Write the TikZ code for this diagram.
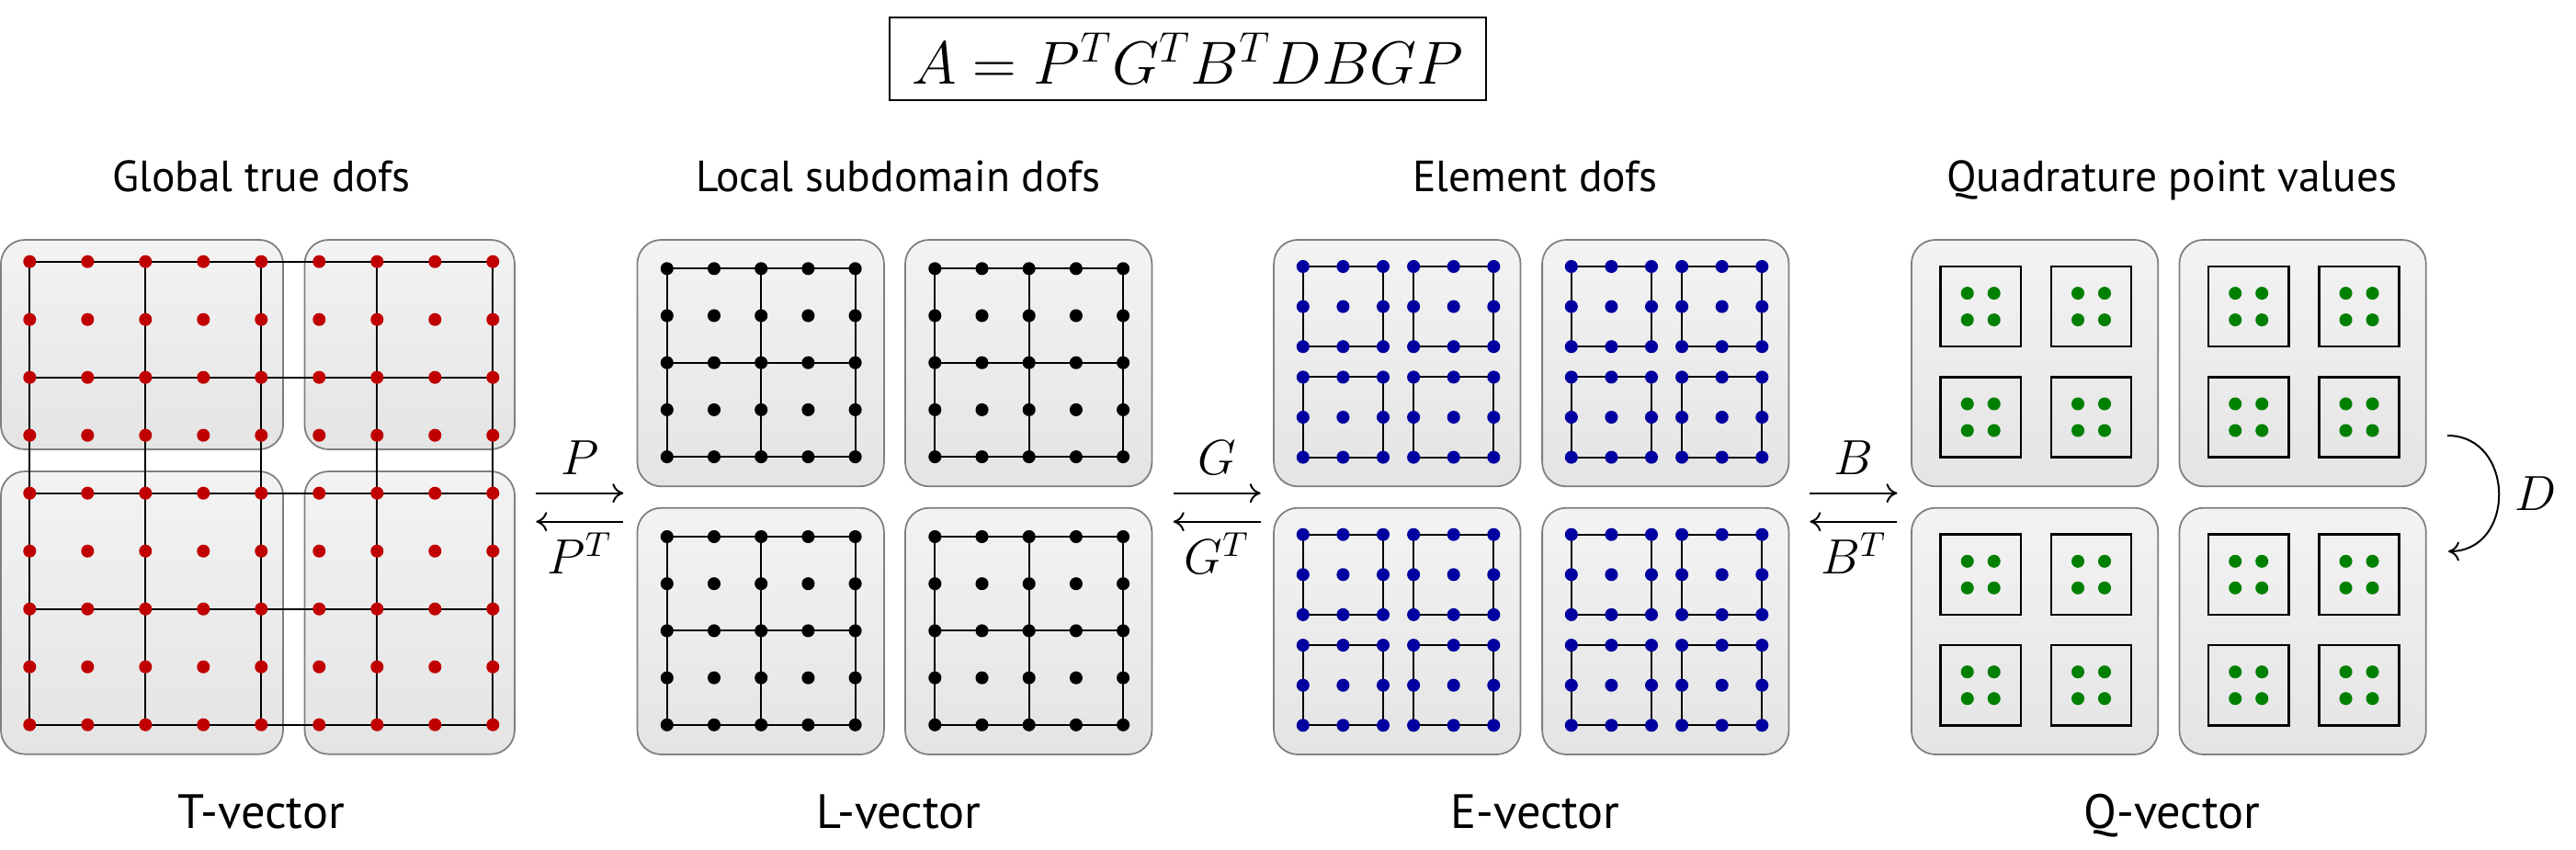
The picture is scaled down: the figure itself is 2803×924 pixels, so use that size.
\RequirePackage{fix-cm}
\documentclass[tikz,border=0pt]{standalone}
\usepackage[no-math]{fontspec}
\setmainfont{PT Sans}
\usetikzlibrary{arrows.meta}
\definecolor{dotred}{HTML}{C00000}
\definecolor{dotblue}{HTML}{0000A0}
\definecolor{dotgreen}{HTML}{008000}
\definecolor{boxedge}{HTML}{7F7F7F}
\definecolor{boxtop}{HTML}{F3F3F3}
\definecolor{boxbot}{HTML}{E4E4E4}
\tikzset{
  panelbox/.style={draw=boxedge, line width=0.5pt, rounded corners=7.4pt, top color=boxtop, bottom color=boxbot},
  gridline/.style={line width=0.55pt, draw=black},
  elemsq/.style={draw=black, line width=0.7pt},
  title/.style={font=\fontsize{13.5}{16}\selectfont, anchor=base},
  veclabel/.style={font=\fontsize{14.9}{18}\selectfont, anchor=base},
  opl/.style={font=\fontsize{15.3}{18}\selectfont, anchor=base},
  maparrow/.style={line width=0.57pt, -{To[length=3.4pt,width=6pt]}},
}
\begin{document}
\begin{tikzpicture}[x=0.01cm, y=-0.01cm]
\useasboundingbox (0,0) rectangle (2803,924);

% formula
\node[draw, line width=0.6pt, inner sep=0pt, minimum width=6.49cm, text height=0.727cm, text depth=0.176cm, anchor=base, font=\fontsize{18.8}{22}\selectfont] (formula) at (1292.4,91.7) {$A = P^T G^T B^T D B G P$};

% titles
\node[title] (t1) at (284.5,208.3) {Global true dofs};
\node[title] (t2) at (977.5,208.3) {Local subdomain dofs};
\node[title] (t3) at (1670.5,208.3) {Element dofs};
\node[title] (t4) at (2363.5,208.3) {Quadrature point values};

% bottom labels
\node[veclabel] (v1) at (284.4,901.7) {T-vector};
\node[veclabel] (v2) at (977.9,901.7) {L-vector};
\node[veclabel] (v3) at (1670.5,901.7) {E-vector};
\node[veclabel] (v4) at (2363.5,901.7) {Q-vector};

% ---- T panel
\foreach \bx/\by/\ex/\ey in {1/261/308/489, 331.5/261/560/489, 1/513/308/820.7, 331.5/513/560/820.7}
  \path[panelbox] (\bx,\by) rectangle (\ex,\ey);
\foreach \k in {0,2,4,6,8} {
  \draw[gridline] ({32.3+63*\k},284.7) -- ({32.3+63*\k},788.7);
  \draw[gridline] (32.3,{284.7+63*\k}) -- (536.3,{284.7+63*\k});
}
\foreach \i in {0,...,8} \foreach \j in {0,...,8}
  \fill[dotred] ({32.3+63*\i},{284.7+63*\j}) circle[radius=2pt];

% ---- L panel
\foreach \bx in {693.5,985} \foreach \by in {261,552.7} {
  \path[panelbox] (\bx,\by) rectangle ++(268.4,268.3);
  \foreach \k in {0,2,4} {
    \draw[gridline] ({\bx+32.3+51.2*\k},{\by+31.3}) -- ++(0,204.8);
    \draw[gridline] ({\bx+32.3},{\by+31.3+51.2*\k}) -- ++(204.8,0);
  }
  \foreach \i in {0,...,4} \foreach \j in {0,...,4}
    \fill[black] ({\bx+32.3+51.2*\i},{\by+31.3+51.2*\j}) circle[radius=2pt];
}

% ---- E panel
\foreach \bx in {1386.1,1678.1} \foreach \by in {261,552.7} {
  \path[panelbox] (\bx,\by) rectangle ++(268.4,268.3);
  \foreach \ox in {31.7,152} \foreach \oy in {29,149.4} {
    \draw[gridline] ({\bx+\ox},{\by+\oy}) rectangle ++(87.2,87.2);
    \foreach \i in {0,1,2} \foreach \j in {0,1,2}
      \fill[dotblue] ({\bx+\ox+43.6*\i},{\by+\oy+43.6*\j}) circle[radius=2pt];
  }
}

% ---- Q panel
\foreach \bx in {2079.9,2371.4} \foreach \by in {261,552.7} {
  \path[panelbox] (\bx,\by) rectangle ++(268.4,268.3);
  \foreach \ox in {31.7,152} \foreach \oy in {29,149.4} {
    \draw[elemsq] ({\bx+\ox},{\by+\oy}) rectangle ++(87.2,87.2);
    \foreach \sx in {-14.5,14.5} \foreach \sy in {-14.5,14.5}
      \fill[dotgreen] ({\bx+\ox+43.6+\sx},{\by+\oy+43.6+\sy}) circle[radius=2pt];
  }
}

% ---- arrows P
\coordinate (pa1) at (583.3,536.7); \coordinate (pa2) at (678.3,536.7);
\coordinate (pb1) at (678.3,567.7); \coordinate (pb2) at (583.3,567.7);
\draw[maparrow] (pa1) -- (pa2);
\draw[maparrow] (pb1) -- (pb2);
\node[opl] (lP) at (630.8,516.7) {$P$};
\node[opl] (lPT) at (630.8,624.7) {$P^T$};

% ---- arrows G
\coordinate (ga1) at (1276.7,536.7); \coordinate (ga2) at (1371.7,536.7);
\coordinate (gb1) at (1371.7,567.7); \coordinate (gb2) at (1276.7,567.7);
\draw[maparrow] (ga1) -- (ga2);
\draw[maparrow] (gb1) -- (gb2);
\node[opl] (lG) at (1324.2,516.7) {$G$};
\node[opl] (lGT) at (1324.2,624.7) {$G^T$};

% ---- arrows B
\coordinate (ba1) at (1969.4,536.7); \coordinate (ba2) at (2064.4,536.7);
\coordinate (bb1) at (2064.4,567.7); \coordinate (bb2) at (1969.4,567.7);
\draw[maparrow] (ba1) -- (ba2);
\draw[maparrow] (bb1) -- (bb2);
\node[opl] (lB) at (2016.9,516.7) {$B$};
\node[opl] (lBT) at (2016.9,624.7) {$B^T$};

% ---- D
\coordinate (d1) at (2663,474); \coordinate (d2) at (2664,600);
\draw[maparrow] (d1) to[out=0,in=0,looseness=1.5] (d2);
\node[opl] (lD) at (2759,555) {$D$};
\end{tikzpicture}
\end{document}
